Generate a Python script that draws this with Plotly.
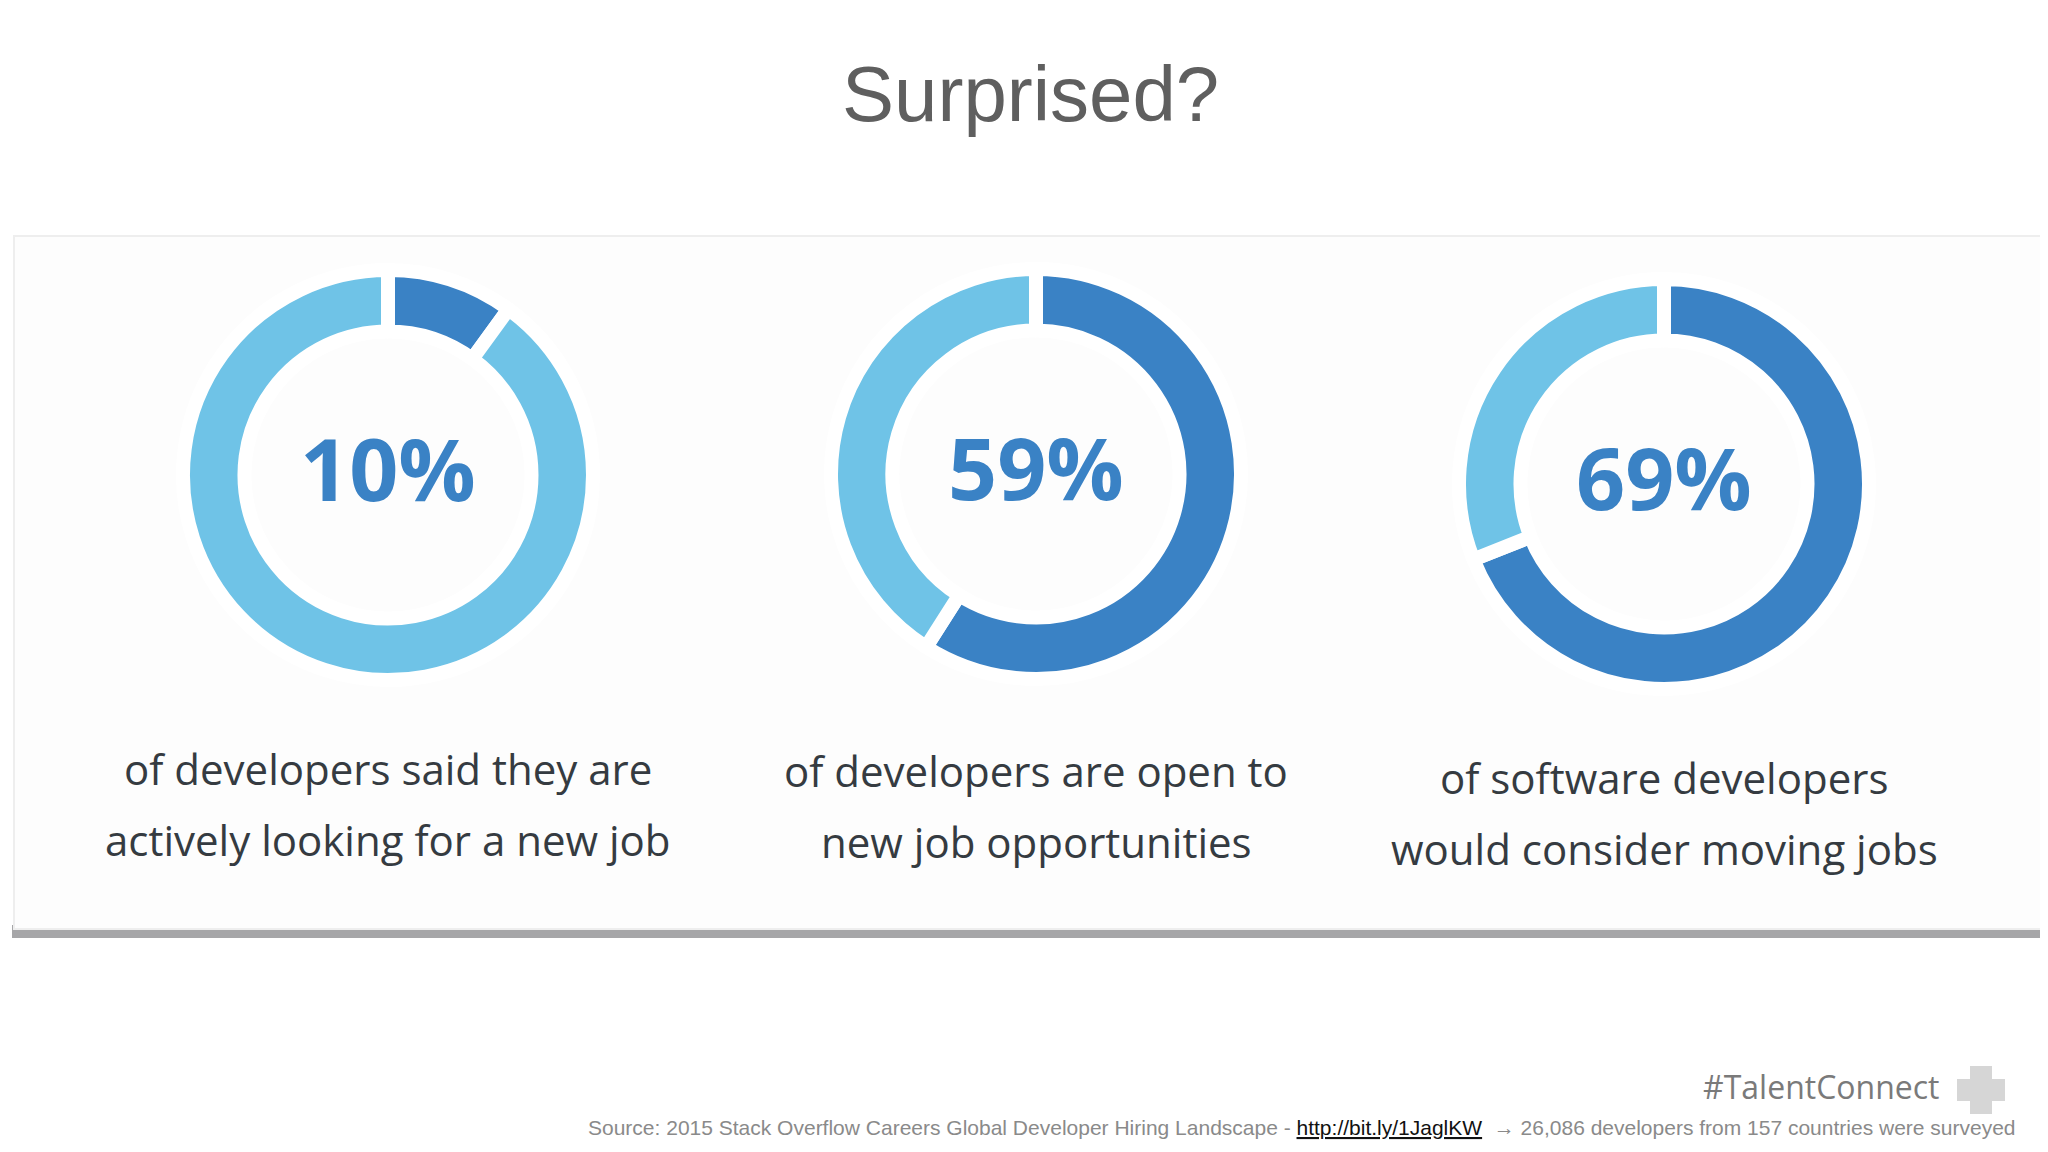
import plotly.graph_objects as go

# survey shares (percent) and captions
shares = [10, 59, 69]
labels = ["10%", "59%", "69%"]
captions = [
    ["of developers said they are", "actively looking for a new job"],
    ["of developers are open to", "new job opportunities"],
    ["of software developers", "would consider moving jobs"],
]

W, H = 2048, 1152
DARK = "#3a82c5"
LIGHT = "#6fc3e7"

# donut centres / radii in pixels
centres = [(380, 467), (1028, 466), (1656, 476)]
radius = 205
caption_y = [760, 762, 769]
LINE_GAP = 71

fig = go.Figure()

for (cx, cy), share in zip(centres, shares):
    fig.add_trace(go.Pie(
        values=[share, 100 - share],
        marker=dict(colors=[DARK, LIGHT], line=dict(color="white", width=14)),
        hole=0.70, sort=False, direction="clockwise", rotation=0,
        textinfo="none", hoverinfo="skip", showlegend=False,
        domain=dict(x=[(cx - radius) / W, (cx + radius) / W],
                    y=[1 - (cy + radius) / H, 1 - (cy - radius) / H]),
    ))

shapes = [
    # card shadow + card
    dict(type="rect", xref="paper", yref="paper", x0=4 / W, x1=1, y0=1 - 930 / H, y1=1 - 917 / H,
         fillcolor="#a6a6a8", line_width=0, layer="below"),
    dict(type="rect", xref="paper", yref="paper", x0=6 / W, x1=1, y0=1 - 921 / H, y1=1 - 228 / H,
         fillcolor="#fdfdfd", line=dict(color="#eeeeee", width=2), layer="below"),
    # plus sign
    dict(type="rect", xref="paper", yref="paper", x0=1962 / W, x1=1984 / W, y0=1 - 1106 / H, y1=1 - 1058 / H,
         fillcolor="#d6d6d6", line_width=0),
    dict(type="rect", xref="paper", yref="paper", x0=1949 / W, x1=1997 / W, y0=1 - 1093 / H, y1=1 - 1071 / H,
         fillcolor="#d6d6d6", line_width=0),
]

annotations = [
    dict(text="Surprised?", x=1022 / W, y=1 - 86 / H, font=dict(size=78, color="#5f5f5f", family="Liberation Sans")),
    dict(text="#TalentConnect", x=1934 / W, y=1 - 1078 / H, xanchor="right",
         font=dict(size=32, color="#7a7a7a", family="Open Sans")),
    dict(text="Source: 2015 Stack Overflow Careers Global Developer Hiring Landscape - "
              "<span style='color:#111'><u>http://bit.ly/1JaglKW</u></span>  → "
              "26,086 developers from 157 countries were surveyed",
         x=2010 / W, y=1 - 1119 / H, xanchor="right",
         font=dict(size=21, color="#8a8a8a", family="Liberation Sans")),
]
for (cx, cy), lab, cap, capy in zip(centres, labels, captions, caption_y):
    annotations.append(dict(text="<b>" + lab + "</b>", x=cx / W, y=1 - (cy - 8) / H,
                            font=dict(size=86, color=DARK, family="Open Sans")))
    for i, line in enumerate(cap):
        annotations.append(dict(text=line, x=cx / W, y=1 - (capy + i * LINE_GAP) / H,
                                font=dict(size=42, color="#353b41", family="Open Sans")))
for a in annotations:
    a.update(xref="paper", yref="paper", showarrow=False)
    a.setdefault("xanchor", "center")
    a.setdefault("yanchor", "middle")

fig.update_layout(
    width=W, height=H, margin=dict(l=0, r=0, t=0, b=0),
    paper_bgcolor="white", plot_bgcolor="white",
    shapes=shapes, annotations=annotations,
)

fig.write_html("out.html")
